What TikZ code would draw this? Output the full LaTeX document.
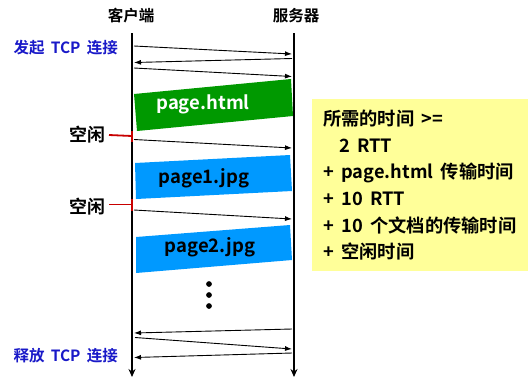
\documentclass[tikz,border=0pt]{standalone}
\usepackage{fontspec}
\setmainfont{Noto Sans CJK SC}[BoldFont={Noto Sans CJK SC Bold},WordSpace=1.8]
\usetikzlibrary{arrows.meta}
\definecolor{htmlgreen}{RGB}{0,153,0}
\definecolor{jpgblue}{RGB}{0,153,255}
\definecolor{notefill}{RGB}{255,255,153}
\definecolor{tcpblue}{RGB}{25,25,200}
\definecolor{idlered}{RGB}{200,0,0}
\tikzset{
    lifeline/.style={line width=2pt,-{Stealth[length=8pt,width=7pt]}},
    msg/.style={line width=0.9pt,-{Latex[length=7pt,width=5pt]}},
    idle/.style={idlered,line width=1.8pt},
    head/.style={font=\bfseries\fontsize{15.5}{18}\selectfont},
    tcp/.style={tcpblue,font=\bfseries\fontsize{15.5}{18}\selectfont},
    idletext/.style={font=\bfseries\fontsize{18}{20}\selectfont},
    pagetext/.style={font=\bfseries\fontsize{18.5}{20}\selectfont}
}
\begin{document}
\begin{tikzpicture}[x=1pt,y=-1pt]
        \useasboundingbox (0,0) rectangle (528,376);

        % lifelines
        \coordinate (Ctop) at (132,33);
        \coordinate (Cbot) at (132,377);
        \coordinate (Stop) at (294,33);
        \coordinate (Sbot) at (294,377);

        \draw[lifeline] (Ctop) -- (Cbot);
        \draw[lifeline] (Stop) -- (Sbot);

        \node[head] (client) at (131,16) {客户端};
        \node[head] (server) at (296,16) {服务器};

        % connection setup
        \coordinate (C1) at (134,46);
        \coordinate (S1) at (292,54);
        \coordinate (S2) at (292,58.5);
        \coordinate (C2) at (134,62.5);
        \coordinate (C3) at (134,68);
        \coordinate (S3) at (292,76.5);

        \draw[msg] (C1) -- (S1);
        \draw[msg] (S2) -- (C2);
        \draw[msg] (C3) -- (S3);

        \node[tcp, anchor=west] (open) at (10,48) {发起 TCP 连接};

        %%%
        \coordinate (H1) at (134,94);
        \coordinate (H2) at (291,79);
        \coordinate (H3) at (293,116);
        \coordinate (H4) at (137,131);

        \fill[htmlgreen] (H1) -- (H2) -- (H3) -- (H4) -- cycle;
        \node[pagetext, white] (html) at (203,104) {page.html};

        \coordinate (I1) at (132,136);
        \coordinate (I1a) at (132,130.5);
        \coordinate (I1b) at (132,142);
        \node[idletext, anchor=east] (idle1) at (109,135) {空闲};
        \draw[idle] (idle1.east) -- (I1);
        \draw[idle] (I1a) -- (I1b);

        \coordinate (C4) at (134,139.5);
        \coordinate (S4) at (292,148);
        \draw[msg] (C4) -- (S4);

        %%%
        \coordinate (J1) at (135,163);
        \coordinate (J2) at (290,155);
        \coordinate (J3) at (292,191);
        \coordinate (J4) at (136,199);

        \fill[jpgblue] (J1) -- (J2) -- (J3) -- (J4) -- cycle;
        \node[pagetext] (jpg1) at (204,178) {page1.jpg};

        \coordinate (I2) at (132,204.5);
        \coordinate (I2a) at (132,199);
        \coordinate (I2b) at (132,211);
        \node[idletext, anchor=east] (idle2) at (109,207) {空闲};
        \draw[idle] (idle2.east |- I2) -- (I2);
        \draw[idle] (I2a) -- (I2b);

        \coordinate (C5) at (134,210);
        \coordinate (S5) at (292,219);
        \draw[msg] (C5) -- (S5);

        %%%
        \coordinate (K1) at (136,237);
        \coordinate (K2) at (290,225);
        \coordinate (K3) at (292,260);
        \coordinate (K4) at (136,273);

        \fill[jpgblue] (K1) -- (K2) -- (K3) -- (K4) -- cycle;
        \node[pagetext] (jpg2) at (210,247) {page2.jpg};

        \filldraw (209,284) circle (2.6pt);
        \filldraw (209,295) circle (2.6pt);
        \filldraw (209,306) circle (2.6pt);

        % connection release
        \coordinate (S6) at (292,329);
        \coordinate (C6) at (134,333);
        \coordinate (C7) at (135,337.5);
        \coordinate (S7) at (292,349);
        \coordinate (S8) at (292,353);
        \coordinate (C8) at (134,357.5);

        \draw[msg] (S6) -- (C6);
        \draw[msg] (C7) -- (S7);
        \draw[msg] (S8) -- (C8);

        \node[tcp, anchor=west] (close) at (10,356) {释放 TCP 连接};

        % total time
        \fill[notefill] (312,99) rectangle (528,271);
        \node[anchor=north west, align=left, inner sep=0pt,
              font=\bfseries\fontsize{18.25}{26.6}\selectfont] (note) at (323,110)
            {所需的时间 >=\\
             \hspace*{16pt}2 RTT\\
             + page.html 传输时间\\
             + 10 RTT\\
             + 10 个文档的传输时间\\
             + 空闲时间};
    \end{tikzpicture}
\end{document}
